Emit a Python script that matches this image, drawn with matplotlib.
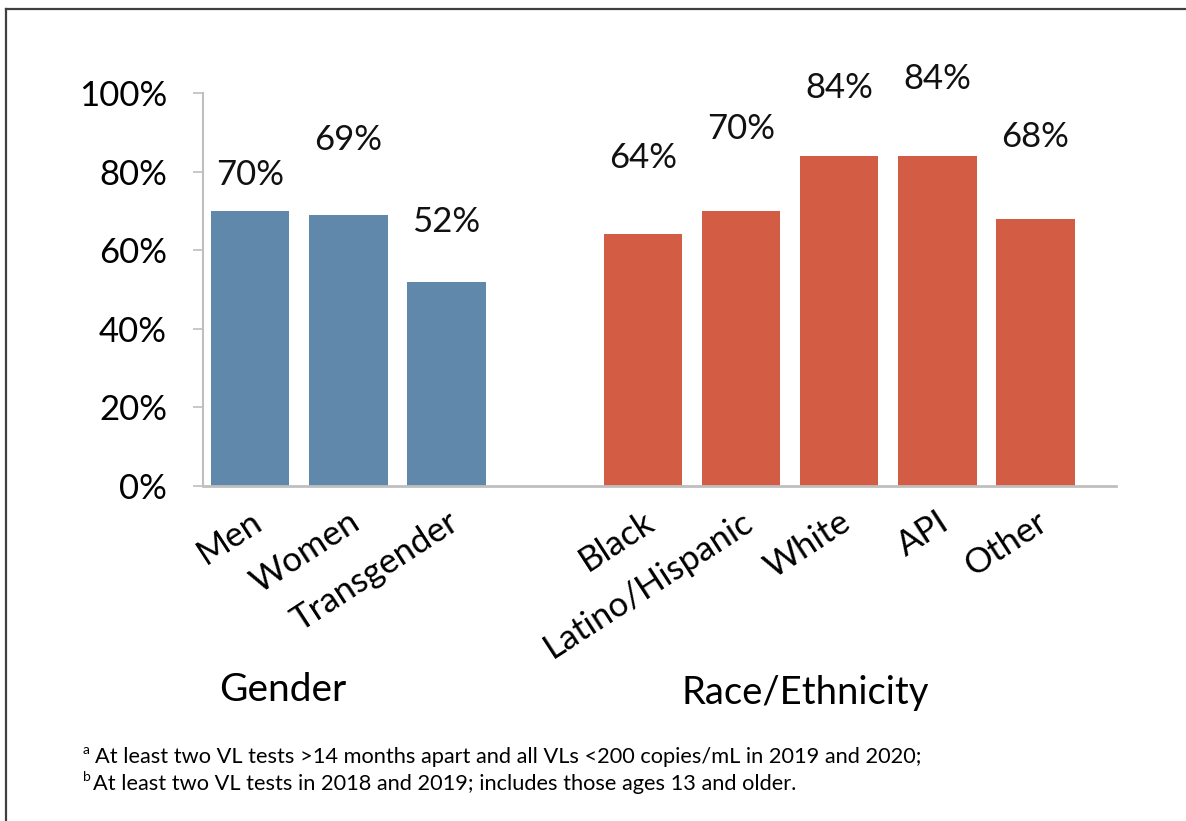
import matplotlib
matplotlib.use('Agg')
import matplotlib.pyplot as plt
from matplotlib.lines import Line2D

plt.rcParams['font.family'] = ['Lato', 'DejaVu Sans']

# data
gender_labels = ['Men', 'Women', 'Transgender']
gender_values = [70, 69, 52]
race_labels = ['Black', 'Latino/Hispanic', 'White', 'API', 'Other']
race_values = [64, 70, 84, 84, 68]
yticks = [0, 20, 40, 60, 80, 100]

# label lift above bar top (points), hand placed like the original
gender_lift = [26, 54, 43]
race_lift = [55, 59, 49, 55, 59]

fig = plt.figure(figsize=(11.86, 8.21), dpi=100)
ax = fig.add_axes([203/1186, 1 - 486/821, (1116 - 203)/1186, (486 - 93)/821])

gx = [0, 1, 2]
rx = [4, 5, 6, 7, 8]
ax.bar(gx, gender_values, width=0.8, color='#5F88AA')
ax.bar(rx, race_values, width=0.8, color='#D35C45')

for x, v, l in zip(gx + rx, gender_values + race_values, gender_lift + race_lift):
    ax.annotate(f'{v}%', (x, v), xytext=(0, l), textcoords='offset points',
                ha='center', va='center', fontsize=25, color='#111111')

ax.set_xlim(-0.48, 8.82)
ax.set_ylim(0, 100)
ax.set_yticks(yticks)
ax.set_yticklabels([f'{t}%' for t in yticks], fontsize=25)
ax.tick_params(axis='y', length=7, width=1.2, color='#BFBFBF', pad=19)
ax.set_xticks(gx + rx)
ax.set_xticklabels(gender_labels + race_labels, rotation=33, ha='right',
                   rotation_mode='anchor', fontsize=25)
ax.tick_params(axis='x', length=0, pad=14)
for s in ['top', 'right']:
    ax.spines[s].set_visible(False)
ax.spines['left'].set_color('#BFBFBF')
ax.spines['left'].set_linewidth(1.5)
ax.spines['bottom'].set_color('#BFBFBF')
ax.spines['bottom'].set_linewidth(2)

fig.text(283/1186, 1 - 690/821, 'Gender', ha='center', va='center', fontsize=28)
fig.text(805/1186, 1 - 693/821, 'Race/Ethnicity', ha='center', va='center', fontsize=27.5)

fig.text(83/1186, 1 - 750/821, 'a', fontsize=10, va='center')
fig.text(95/1186, 1 - 757/821,
         'At least two VL tests >14 months apart and all VLs <200 copies/mL in 2019 and 2020;',
         fontsize=15.7, va='center')
fig.text(83/1186, 1 - 777/821, 'b', fontsize=10, va='center')
fig.text(93/1186, 1 - 784/821,
         'At least two VL tests in 2018 and 2019; includes those ages 13 and older.',
         fontsize=15.7, va='center')

# frame lines on the left and top edges
fig.add_artist(Line2D([6/1186, 6/1186], [0, 1 - 9/821], transform=fig.transFigure,
                      color='#404040', lw=1.6))
fig.add_artist(Line2D([6/1186, 1], [1 - 9/821, 1 - 9/821], transform=fig.transFigure,
                      color='#404040', lw=1.6))

fig.savefig('out.png', dpi=100)
